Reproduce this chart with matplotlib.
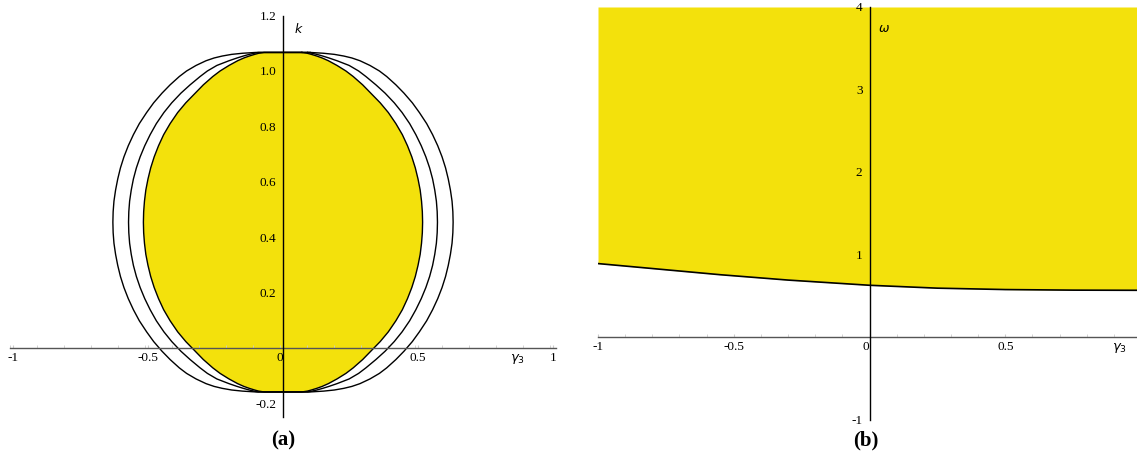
import matplotlib
matplotlib.use("Agg")
import matplotlib.pyplot as plt
import numpy as np

# (a) stability boundaries in the (gamma3, k) plane: half-width of each region per k level
k_levels = [1.067, 1.064, 1.060, 1.054, 1.047, 1.037, 1.020, 1.000, 0.980, 0.950, 0.920,
            0.885, 0.850, 0.810, 0.770, 0.730, 0.690, 0.650, 0.610, 0.570, 0.530, 0.492,
            0.454, 0.416, 0.378, 0.338, 0.298, 0.258, 0.218, 0.178, 0.138, 0.098, 0.058,
            0.023, -0.012, -0.042, -0.072, -0.092, -0.112, -0.129, -0.139, -0.146, -0.152,
            -0.156, -0.159]
inner_hw = [0.07, 0.09, 0.105, 0.125, 0.145, 0.168, 0.20, 0.233, 0.26, 0.295, 0.325,
            0.36, 0.39, 0.418, 0.442, 0.461, 0.477, 0.49, 0.50, 0.508, 0.513, 0.516,
            0.517, 0.516, 0.513, 0.508, 0.50, 0.49, 0.477, 0.461, 0.442, 0.418, 0.39,
            0.36, 0.325, 0.295, 0.26, 0.233, 0.20, 0.168, 0.145, 0.125, 0.105,
            0.09, 0.07]
middle_hw = [0.092, 0.107, 0.125, 0.147, 0.17, 0.20, 0.245, 0.28, 0.307, 0.344, 0.378,
             0.412, 0.441, 0.469, 0.492, 0.512, 0.529, 0.543, 0.554, 0.562, 0.568, 0.571,
             0.572, 0.571, 0.568, 0.562, 0.554, 0.543, 0.529, 0.512, 0.492, 0.469, 0.441,
             0.412, 0.378, 0.344, 0.307, 0.28, 0.245, 0.20, 0.17, 0.147, 0.125,
             0.107, 0.092]
outer_hw = [0.10, 0.15, 0.19, 0.225, 0.255, 0.285, 0.322, 0.357, 0.384, 0.418, 0.448,
            0.479, 0.505, 0.532, 0.554, 0.573, 0.589, 0.602, 0.612, 0.62, 0.626, 0.629,
            0.63, 0.629, 0.626, 0.62, 0.612, 0.602, 0.589, 0.573, 0.554, 0.532, 0.505,
            0.479, 0.448, 0.418, 0.384, 0.357, 0.322, 0.285, 0.255, 0.225, 0.19,
            0.15, 0.10]

# (b) lower boundary of the stable region in the (gamma3, omega) plane
gamma_b = [-1.0, -0.8, -0.55, -0.3, 0.0, 0.25, 0.5, 0.75, 1.0]
omega_b = [0.89, 0.83, 0.755, 0.69, 0.627, 0.592, 0.575, 0.568, 0.566]

a_xticks = [-1, -0.5, 0, 0.5, 1]
a_xlabels = ["-1", "-0.5", "0", "0.5", "1"]
a_yticks = [-0.2, 0.2, 0.4, 0.6, 0.8, 1.0, 1.2]
a_ylabels = ["-0.2", "0.2", "0.4", "0.6", "0.8", "1.0", "1.2"]
b_xticks = [-1, -0.5, 0, 0.5]
b_xlabels = ["-1", "-0.5", "0", "0.5"]
b_yticks = [-1, 1, 2, 3, 4]
b_ylabels = ["-1", "1", "2", "3", "4"]

YELLOW = "#f3e10c"
SERIF = "Liberation Serif"
W, H = 1137, 463


def closed_outline(k, hw):
    k = np.asarray(k)
    hw = np.asarray(hw)
    x = np.concatenate([hw, -hw[::-1], hw[:1]])
    y = np.concatenate([k, k[::-1], k[:1]])
    return x, y


def zero_axes(ax, xb, yb, xticks, xlabels, yticks, ylabels):
    for s in ["top", "right"]:
        ax.spines[s].set_visible(False)
    ax.spines["left"].set_position(("data", 0))
    ax.spines["bottom"].set_position(("data", 0))
    ax.spines["bottom"].set_bounds(*xb)
    ax.spines["left"].set_bounds(*yb)
    ax.spines["bottom"].set_color("#555555")
    ax.spines["left"].set_color("black")
    ax.spines["bottom"].set_linewidth(1.0)
    ax.spines["left"].set_linewidth(1.0)
    ax.spines["bottom"].set_zorder(5)
    ax.spines["left"].set_zorder(6)
    ax.set_xticks(xticks)
    ax.set_xticklabels(xlabels, fontfamily=SERIF, fontsize=9.5)
    ax.set_yticks(yticks)
    ax.set_yticklabels(ylabels, fontfamily=SERIF, fontsize=9.5)
    ax.set_xticks(np.arange(xb[0], xb[1] + 1e-9, 0.1), minor=True)
    ax.tick_params(axis="x", which="both", direction="in", color="#cccccc",
                   length=2.5, pad=3)
    ax.tick_params(axis="y", length=0, pad=5)
    for lbl in ax.get_xticklabels():
        if lbl.get_text() == "0":
            lbl.set_horizontalalignment("right")


fig = plt.figure(figsize=(W / 100, H / 100), dpi=100)

# panel (a)
ax1 = fig.add_axes([0, (H - 431) / H, 566 / W, (431 - 1.75) / H])
ax1.set_xlim(-1.048, 1.048)
ax1.set_ylim(-0.3, 1.25)
xi, yi = closed_outline(k_levels, inner_hw)
ax1.fill(xi, yi, color=YELLOW, lw=0, zorder=1)
for hw in (inner_hw, middle_hw, outer_hw):
    x, y = closed_outline(k_levels, hw)
    ax1.plot(x, y, color="black", lw=1.0, zorder=3)
zero_axes(ax1, (-1.01, 1.01), (-0.25, 1.2), a_xticks, a_xlabels, a_yticks, a_ylabels)
ax1.text(0.056, 1.148, "k", fontsize=9, style="italic", ha="center", va="center")
ax1.annotate(r"$\gamma_3$", xy=(0.867, 0), xytext=(0, -3), textcoords="offset points",
             ha="center", va="top", fontsize=9.5)

# panel (b)
xl, xr = -1.0, (W - 870) / 271
yb_px = 337 + 82.5 * 1.1
ax2 = fig.add_axes([598 / W, (H - yb_px) / H, (W - 598) / W, (yb_px - 7) / H])
ax2.set_xlim(xl, xr)
ax2.set_ylim(-1.1, 4.0)
ax2.fill_between(gamma_b, omega_b, 4.0, color=YELLOW, lw=0, zorder=1)
ax2.plot(gamma_b, omega_b, color="black", lw=1.2, zorder=3)
zero_axes(ax2, (-1.0, xr), (-1.0, 4.0), b_xticks, b_xlabels, b_yticks, b_ylabels)
ax2.text(0.052, 3.745, "ω", fontsize=9, style="italic", ha="center", va="center")
ax2.annotate(r"$\gamma_3$", xy=(0.92, 0), xytext=(0, -3), textcoords="offset points",
             ha="center", va="top", fontsize=9.5)

fig.text(283 / W, 1 - 440 / H, "(a)", fontfamily=SERIF, fontweight="bold",
         fontsize=15, ha="center", va="center")
fig.text(866 / W, 1 - 440 / H, "(b)", fontfamily=SERIF, fontweight="bold",
         fontsize=15, ha="center", va="center")

fig.savefig("out.png", dpi=100)
